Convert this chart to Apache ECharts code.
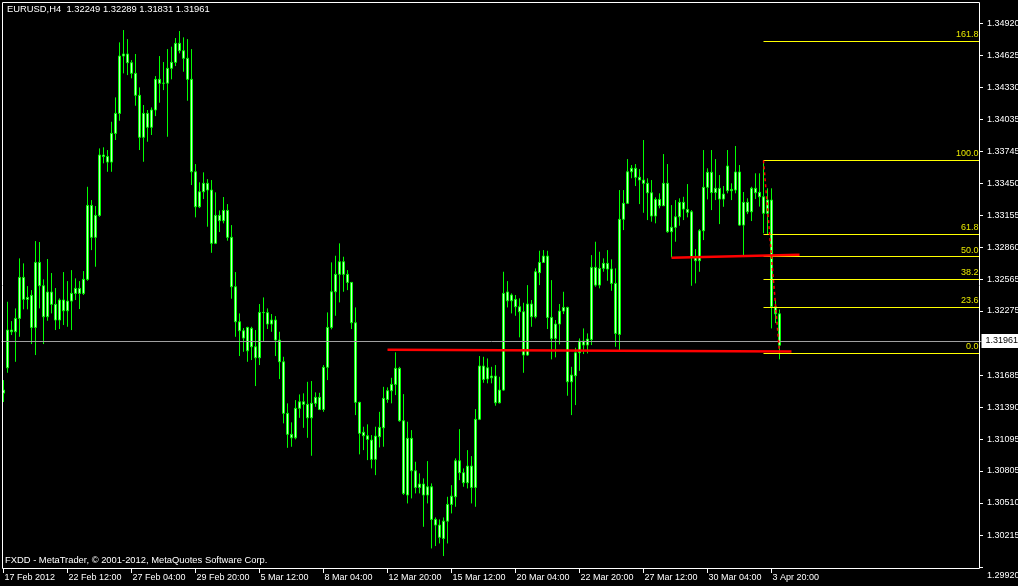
<!DOCTYPE html>
<html>
<head>
<meta charset="utf-8">
<script src="https://cdn.jsdelivr.net/npm/echarts@6.0.0/dist/echarts.min.js"></script>
<style>
html,body{margin:0;padding:0;background:#000;}
#chart{width:1018px;height:586px;}
</style>
</head>
<body>
<div id="chart"></div>
<script>
// ---- DATA (EURUSD H4, first bar 17 Feb 2012 20:00) ----
const symbol = 'EURUSD,H4';
const firstLabel = '17 Feb 2012';
const startTime = Date.UTC(2012, 1, 17, 20);

const opens = [
1.31520,1.31753,1.32100,1.32084,1.32207,1.32584,1.32382,1.32419,1.32124,1.32722,
1.32507,1.32222,1.32449,1.32336,1.32192,1.32376,1.32277,1.32366,1.32437,1.32483,
1.32437,1.32566,1.33246,1.32952,1.33154,1.33709,1.33695,1.33644,1.33908,1.34092,
1.34619,1.34638,1.34558,1.34460,1.34258,1.33872,1.34092,1.33964,1.34123,1.34405,
1.34368,1.34370,1.34506,1.34561,1.34736,1.34668,1.34598,1.34405,1.33555,1.33233,
1.33371,1.33449,1.33387,1.32897,1.33154,1.33105,1.33200,1.32952,1.32498,1.32176,
1.32093,1.31909,1.32115,1.31946,1.31845,1.32262,1.32260,1.32155,1.32192,1.32008,
1.31808,1.31334,1.31141,1.31109,1.31380,1.31440,1.31417,1.31293,1.31426,1.31481,
1.31370,1.31757,1.32124,1.32452,1.32612,1.32728,1.32612,1.32538,1.32167,1.31435,
1.31160,1.31128,1.31088,1.30911,1.31119,1.31201,1.31462,1.31542,1.31600,1.31748,
1.31266,1.30583,1.31104,1.30806,1.30653,1.30684,1.30583,1.30659,1.30359,1.30307,
1.30184,1.30343,1.30497,1.30567,1.30898,1.30788,1.30696,1.30849,1.30653,1.31279,
1.31769,1.31650,1.31661,1.31677,1.31431,1.31548,1.32450,1.32369,1.32382,1.32314,
1.32268,1.31870,1.32339,1.32222,1.32627,1.32722,1.32780,1.32216,1.32023,1.32155,
1.32274,1.32308,1.31624,1.31680,1.31891,1.31999,1.31962,1.32014,1.32676,1.32513,
1.32667,1.32713,1.32661,1.32529,1.32060,1.33118,1.33265,1.33555,1.33587,1.33504,
1.33479,1.33449,1.33362,1.33148,1.33301,1.33243,1.33449,1.33004,1.33044,1.33141,
1.33274,1.33209,1.33187,1.32774,1.32737,1.33013,1.33412,1.33550,1.33364,1.33403,
1.33304,1.33608,1.33381,1.33387,1.33553,1.33065,1.33274,1.33187,1.33403,1.33366,
1.33325,1.33173,1.33295,1.32314,1.32249
];
const highs = [
1.31640,1.32360,1.32182,1.32299,1.32759,1.32713,1.32504,1.32467,1.32918,1.32909,
1.32566,1.32753,1.32624,1.32486,1.32391,1.32633,1.32550,1.32651,1.32575,1.32550,
1.32642,1.33417,1.33295,1.33240,1.33770,1.33780,1.33755,1.34015,1.34239,1.34745,
1.34858,1.34775,1.34582,1.34638,1.34331,1.34169,1.34123,1.34147,1.34435,1.34619,
1.34564,1.34683,1.34705,1.34785,1.34849,1.34791,1.34775,1.34683,1.33626,1.33458,
1.33550,1.33488,1.33479,1.33366,1.33200,1.33323,1.33258,1.33065,1.32633,1.32253,
1.32118,1.32130,1.32130,1.32100,1.32339,1.32400,1.32299,1.32247,1.32228,1.32084,
1.31854,1.31426,1.31251,1.31456,1.31508,1.31518,1.31624,1.31631,1.31527,1.31523,
1.31778,1.32262,1.32722,1.32783,1.32897,1.32774,1.32651,1.32540,1.32308,1.31440,
1.31211,1.31233,1.31134,1.31211,1.31348,1.31578,1.31573,1.31661,1.31895,1.31762,
1.31511,1.31257,1.31180,1.30889,1.30782,1.30736,1.30895,1.30690,1.30377,1.30359,
1.30377,1.30567,1.30674,1.30920,1.31189,1.30828,1.30996,1.30941,1.31373,1.31861,
1.31854,1.31839,1.31762,1.31778,1.31670,1.32636,1.32550,1.32437,1.32422,1.32391,
1.32351,1.32513,1.32376,1.32667,1.32829,1.32835,1.32829,1.32559,1.32192,1.32339,
1.32452,1.32314,1.31762,1.31937,1.32023,1.32115,1.32069,1.32789,1.32912,1.32820,
1.32759,1.32835,1.32750,1.32667,1.33387,1.33387,1.33672,1.33617,1.33626,1.33580,
1.33847,1.33495,1.33479,1.33320,1.33357,1.33718,1.33626,1.33249,1.33295,1.33311,
1.33325,1.33442,1.33203,1.32844,1.33028,1.33755,1.33587,1.33755,1.33672,1.33525,
1.33424,1.33755,1.33449,1.33792,1.33617,1.33369,1.33311,1.33417,1.33541,1.33541,
1.33658,1.33403,1.33403,1.32376,1.32289
];
const lows = [
1.31438,1.31707,1.32054,1.31808,1.32038,1.32290,1.32290,1.31971,1.31870,1.32299,
1.31971,1.32185,1.32253,1.32100,1.32109,1.32146,1.32130,1.32100,1.32376,1.32293,
1.32422,1.32553,1.32835,1.32682,1.33141,1.33633,1.33555,1.33555,1.33847,1.34024,
1.34460,1.34444,1.34414,1.34162,1.33755,1.33647,1.33831,1.33893,1.34067,1.34190,
1.34306,1.33877,1.34405,1.34527,1.34644,1.34475,1.34208,1.33433,1.33136,1.33221,
1.33304,1.33050,1.32810,1.32890,1.33001,1.33081,1.32921,1.32388,1.32038,1.31861,
1.31900,1.31808,1.31824,1.31585,1.31778,1.31999,1.32109,1.32084,1.31861,1.31649,
1.31242,1.31017,1.31027,1.31095,1.31293,1.31201,1.31109,1.30944,1.31394,1.31364,
1.31348,1.31640,1.32106,1.32231,1.32354,1.32452,1.32467,1.32109,1.31318,1.30957,
1.30996,1.30904,1.30828,1.30766,1.31021,1.31027,1.31431,1.31426,1.31502,1.31257,
1.30583,1.30506,1.30552,1.30598,1.30598,1.30291,1.30506,1.30092,1.30114,1.30138,
1.30022,1.30138,1.30414,1.30475,1.30720,1.30659,1.30644,1.30506,1.30475,1.31272,
1.31615,1.31610,1.31610,1.31404,1.31426,1.31543,1.32308,1.32253,1.32231,1.32033,
1.31707,1.31863,1.32130,1.32207,1.32513,1.32719,1.32109,1.31830,1.31849,1.31968,
1.32247,1.31496,1.31318,1.31410,1.31725,1.31879,1.31885,1.31962,1.32498,1.32483,
1.32636,1.32553,1.32461,1.31946,1.31916,1.33019,1.33258,1.33495,1.33424,1.33258,
1.33178,1.33111,1.33096,1.33081,1.33219,1.33240,1.32994,1.32768,1.32912,1.33059,
1.33111,1.33136,1.32507,1.32529,1.32636,1.32927,1.33301,1.33203,1.33295,1.33074,
1.33233,1.33357,1.33295,1.33357,1.33059,1.32789,1.33166,1.33102,1.33304,1.33235,
1.32989,1.32973,1.32115,1.32164,1.31831
];
const closes = [
1.31548,1.32100,1.32084,1.32207,1.32584,1.32382,1.32400,1.32124,1.32722,1.32507,
1.32222,1.32449,1.32336,1.32192,1.32376,1.32277,1.32366,1.32437,1.32483,1.32437,
1.32566,1.33246,1.32952,1.33154,1.33709,1.33695,1.33644,1.33908,1.34092,1.34619,
1.34638,1.34558,1.34460,1.34258,1.33872,1.34092,1.33964,1.34123,1.34405,1.34368,
1.34370,1.34506,1.34561,1.34736,1.34668,1.34598,1.34405,1.33555,1.33233,1.33371,
1.33449,1.33387,1.32897,1.33154,1.33105,1.33200,1.32952,1.32498,1.32176,1.32093,
1.32026,1.32124,1.31946,1.31845,1.32262,1.32260,1.32155,1.32192,1.32008,1.31808,
1.31334,1.31141,1.31109,1.31380,1.31440,1.31417,1.31293,1.31426,1.31481,1.31370,
1.31757,1.32124,1.32452,1.32612,1.32728,1.32612,1.32538,1.32167,1.31435,1.31150,
1.31128,1.31095,1.30911,1.31125,1.31205,1.31472,1.31542,1.31600,1.31748,1.31266,
1.30598,1.31104,1.30806,1.30653,1.30684,1.30583,1.30659,1.30359,1.30307,1.30194,
1.30343,1.30497,1.30573,1.30898,1.30788,1.30696,1.30849,1.30653,1.31279,1.31769,
1.31646,1.31753,1.31677,1.31431,1.31548,1.32437,1.32369,1.32422,1.32314,1.32268,
1.31870,1.32339,1.32222,1.32636,1.32722,1.32780,1.32216,1.32023,1.32155,1.32274,
1.32308,1.31624,1.31686,1.31891,1.31999,1.31962,1.32017,1.32676,1.32513,1.32667,
1.32713,1.32661,1.32529,1.32069,1.33118,1.33265,1.33555,1.33587,1.33504,1.33479,
1.33449,1.33362,1.33148,1.33301,1.33243,1.33449,1.33004,1.33044,1.33141,1.33274,
1.33212,1.33182,1.32774,1.32737,1.33013,1.33412,1.33550,1.33364,1.33403,1.33304,
1.33350,1.33381,1.33393,1.33553,1.33065,1.33274,1.33187,1.33403,1.33362,1.33325,
1.33173,1.33295,1.32314,1.32249,1.31961
];

// price-scale tick labels (right axis)
const priceTicks = [1.29920,1.30215,1.30510,1.30805,1.31095,1.31390,1.31685,1.32275,
  1.32565,1.32860,1.33155,1.33450,1.33745,1.34035,1.34330,1.34625,1.34920];
const priceMin = 1.29903, priceMax = 1.35116;

// current bid
const bidPrice = 1.31961;

// Fibonacci retracement (anchor bars and prices)
const fibStartBar = 190, fibEndBar = 194;
const fibLow = 1.31890, fibHigh = 1.33660;
const fibLevels = [0.0, 23.6, 38.2, 50.0, 61.8, 100.0, 161.8];

// red trend lines: [barFrom, priceFrom, barTo, priceTo]
const trendLow = [96, 1.31919, 197, 1.31902];
const trendHigh = [167, 1.32765, 199, 1.32792];

const totalSlots = 245; // bars + empty chart shift area
const copyright = 'FXDD - MetaTrader, \u00A9 2001-2012, MetaQuotes Software Corp.';

// ---- build time categories (H4, weekdays only) ----
const MONTHS = ['Jan','Feb','Mar','Apr','May','Jun','Jul','Aug','Sep','Oct','Nov','Dec'];
const categories = [];
let t = startTime;
while (categories.length < totalSlots) {
  const d = new Date(t);
  const wd = d.getUTCDay();
  if (wd !== 0 && wd !== 6) {
    const hh = String(d.getUTCHours()).padStart(2, '0');
    categories.push(d.getUTCDate() + ' ' + MONTHS[d.getUTCMonth()] + ' ' + hh + ':00');
  }
  t += 4 * 3600 * 1000;
}
const nBars = opens.length;
const candleData = opens.map((o, i) => [o, closes[i], lows[i], highs[i]]);
const showLabel = (i) => i % 16 === 0 && i < nBars;

const last = nBars - 1;
const titleText = symbol + '  ' + [opens[last], highs[last], lows[last], closes[last]].map(v => v.toFixed(5)).join(' ');

const FONT = 'Liberation Sans, Arial, sans-serif';
const fibLines = fibLevels.map(lv => {
  const price = fibLow + (fibHigh - fibLow) * lv / 100;
  return [
    { coord: [fibStartBar, price], lineStyle: { color: '#ffff00', width: 1, type: 'solid' },
      label: { show: true, position: 'insideEndTop', formatter: lv.toFixed(1), color: '#e8e800',
               fontSize: 9, fontFamily: FONT, distance: [1, 2] } },
    { coord: [totalSlots - 1, price] }
  ];
});

const redStyle = { color: '#ff0000', width: 2.5, type: 'solid' };
const markLines = [
  { yAxis: bidPrice, lineStyle: { color: '#a0a0a0', width: 1, type: 'solid' },
    label: { show: true, position: 'end', formatter: bidPrice.toFixed(5), backgroundColor: '#ffffff',
             color: '#000000', padding: [3, 4, 2, 4], distance: 0, fontSize: 9, fontFamily: FONT } },
  ...fibLines,
  [ { coord: [trendLow[0], trendLow[1]], lineStyle: redStyle, label: { show: false } },
    { coord: [trendLow[2], trendLow[3]] } ],
  [ { coord: [trendHigh[0], trendHigh[1]], lineStyle: redStyle, label: { show: false } },
    { coord: [trendHigh[2], trendHigh[3]] } ],
  [ { coord: [fibStartBar, fibHigh], lineStyle: { color: '#ff0000', width: 1.5, type: [3, 3] }, label: { show: false } },
    { coord: [fibEndBar, fibLow] } ]
];

const chart = echarts.init(document.getElementById('chart'), null, { renderer: 'canvas' });
chart.setOption({
  backgroundColor: '#000000',
  animation: false,
  textStyle: { fontFamily: FONT },
  title: [
    { text: titleText, left: 7, top: 5, padding: 0,
      textStyle: { color: '#ffffff', fontSize: 9.4, fontWeight: 'normal', fontFamily: FONT } },
    { text: copyright, left: 5, top: 556, padding: 0,
      textStyle: { color: '#ffffff', fontSize: 9.4, fontWeight: 'normal', fontFamily: FONT } }
  ],
  // chart frame
  graphic: [
    { type: 'rect', silent: true, z: 100,
      shape: { x: 2.5, y: 2.5, width: 977, height: 566 },
      style: { fill: null, stroke: '#ffffff', lineWidth: 1 } }
  ],
  grid: { left: 1.5, top: 2, width: 980, height: 567, show: false, containLabel: false,
          outerBoundsMode: 'none' },
  xAxis: {
    type: 'category', data: categories, boundaryGap: true,
    axisLine: { show: false },
    axisTick: { show: true, alignWithLabel: true, length: 4, interval: (i) => showLabel(i),
                lineStyle: { color: '#ffffff' } },
    axisLabel: { show: true, interval: (i) => showLabel(i), color: '#ffffff', fontSize: 9, fontFamily: FONT,
                 align: 'left', margin: 4, padding: [0, 0, 0, 1],
                 formatter: (v, i) => (i === 0 ? firstLabel : v) },
    splitLine: { show: false }
  },
  yAxis: {
    type: 'value', position: 'right', offset: -1.5, min: priceMin, max: priceMax, scale: true,
    axisLine: { show: false },
    axisTick: { show: true, length: 3, customValues: priceTicks, lineStyle: { color: '#ffffff' } },
    axisLabel: { show: true, customValues: priceTicks, color: '#ffffff', fontSize: 9, fontFamily: FONT, margin: 7,
                 formatter: (v) => (Math.abs(v - priceTicks[0]) < 1e-7 ? '{lo|' + v.toFixed(5) + '}' : v.toFixed(5)),
                 rich: { lo: { color: '#ffffff', fontSize: 9, fontFamily: FONT, padding: [16, 0, 0, 0] } } },
    splitLine: { show: false }
  },
  series: [
    {
      type: 'candlestick', data: candleData, barWidth: 2,
      itemStyle: { color: '#c8ffc8', color0: '#c8ffc8', borderColor: '#00ff00', borderColor0: '#00ff00', borderWidth: 1 },
      markLine: { silent: true, symbol: ['none', 'none'], animation: false, data: markLines }
    }
  ]
});
</script>
</body>
</html>
